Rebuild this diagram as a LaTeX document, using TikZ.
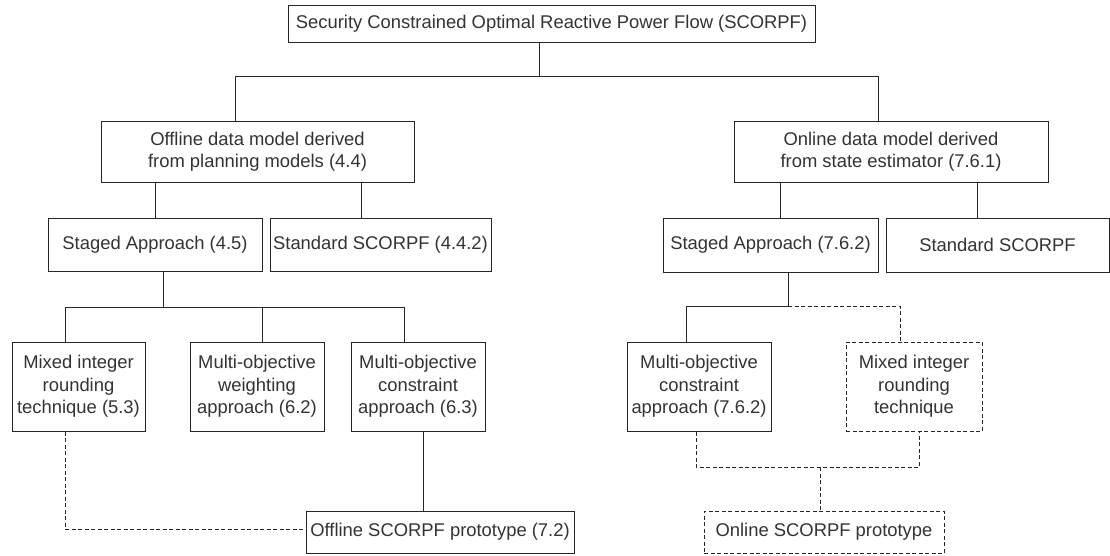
\documentclass[tikz,border=0pt]{standalone}
\usepackage{fontspec}
\setmainfont{Liberation Sans}
\begin{document}
\begin{tikzpicture}[x=1pt,y=-1pt,
  box/.style={draw=black!85, line width=1pt, rectangle, inner sep=0pt, align=center,
    text=black!80, font=\fontsize{18.4pt}{22.5pt}\selectfont},
  dbox/.style={box, dash pattern=on 4pt off 2.5pt},
  conn/.style={draw=black!85, line width=1pt},
  dconn/.style={conn, dash pattern=on 4pt off 2.5pt}]
\useasboundingbox (0,0) rectangle (1110,555);
\fill[white] (0,0) rectangle (1110,555);

% nodes
\node[box, minimum width=527pt, minimum height=37pt] (top) at (551.5,23.5) {Security Constrained Optimal Reactive Power Flow (SCORPF)};
\node[box, minimum width=313pt, minimum height=61pt] (off) at (257.5,151.5) {Offline data model derived\\from planning models (4.4)};
\node[box, minimum width=314pt, minimum height=61pt] (on) at (891,151.5) {Online data model derived\\from state estimator (7.6.1)};
\node[box, minimum width=214pt, minimum height=53pt] (stA) at (155,244.5) {Staged Approach (4.5)};
\node[box, minimum width=221pt, minimum height=53pt] (stdA) at (380.5,244.5) {Standard SCORPF (4.4.2)};
\node[box, minimum width=215pt, minimum height=54pt] (stB) at (770.5,245) {Staged Approach (7.6.2)};
\node[box, minimum width=223pt, minimum height=54pt] (stdB) at (997.5,245) {Standard SCORPF};
\node[box, minimum width=133pt, minimum height=89pt] (mixA) at (78.5,386.5) {Mixed integer\\rounding\\technique (5.3)};
\node[box, minimum width=134pt, minimum height=89pt] (weiA) at (257,386.5) {Multi-objective\\weighting\\approach (6.2)};
\node[box, minimum width=134pt, minimum height=89pt] (conA) at (418,386.5) {Multi-objective\\constraint\\approach (6.3)};
\node[box, minimum width=268pt, minimum height=42pt] (protoA) at (440,532) {Offline SCORPF prototype (7.2)};
\node[box, minimum width=144pt, minimum height=89pt] (conB) at (699,386.5) {Multi-objective\\constraint\\approach (7.6.2)};
\node[dbox, minimum width=136pt, minimum height=89pt] (mixB) at (914,386.5) {Mixed integer\\rounding\\technique};
\node[dbox, minimum width=240pt, minimum height=42pt] (protoB) at (824,532) {Online SCORPF prototype};

% junction coordinates
\coordinate (j0) at (539,76);
\coordinate (jL) at (235,76);
\coordinate (jR) at (878,76);
\coordinate (a1) at (155,0);
\coordinate (a2) at (361,0);
\coordinate (b1) at (780,0);
\coordinate (b2) at (977,0);
\coordinate (s0) at (163,307);
\coordinate (s1) at (65,307);
\coordinate (s2) at (262,307);
\coordinate (s3) at (404,307);
\coordinate (p1) at (65,529);
\coordinate (p2) at (423,0);
\coordinate (r0) at (788,306);
\coordinate (r1) at (686,306);
\coordinate (r2) at (900,306);
\coordinate (q1) at (696,467);
\coordinate (q2) at (919,467);
\coordinate (q0) at (820,467);

% connectors
\draw[conn] (j0 |- top.south) -- (j0);
\draw[conn] (jL |- off.north) -- (jL) -- (jR) -- (jR |- on.north);
\draw[conn] (a1 |- off.south) -- (a1 |- stA.north);
\draw[conn] (a2 |- off.south) -- (a2 |- stdA.north);
\draw[conn] (b1 |- on.south) -- (b1 |- stB.north);
\draw[conn] (b2 |- on.south) -- (b2 |- stdB.north);
\draw[conn] (s0 |- stA.south) -- (s0);
\draw[conn] (s1 |- mixA.north) -- (s1) -- (s3) -- (s3 |- conA.north);
\draw[conn] (s2) -- (s2 |- weiA.north);
\draw[dconn] (p1 |- mixA.south) -- (p1) -- (p1 -| protoA.west);
\draw[conn] (p2 |- conA.south) -- (p2 |- protoA.north);
\draw[conn] (r0 |- stB.south) -- (r0) -- (r1) -- (r1 |- conB.north);
\draw[dconn] (r0) -- (r2) -- (r2 |- mixB.north);
\draw[dconn] (q1 |- conB.south) -- (q1) -- (q2) -- (q2 |- mixB.south);
\draw[dconn] (q0) -- (q0 |- protoB.north);
\end{tikzpicture}
\end{document}
